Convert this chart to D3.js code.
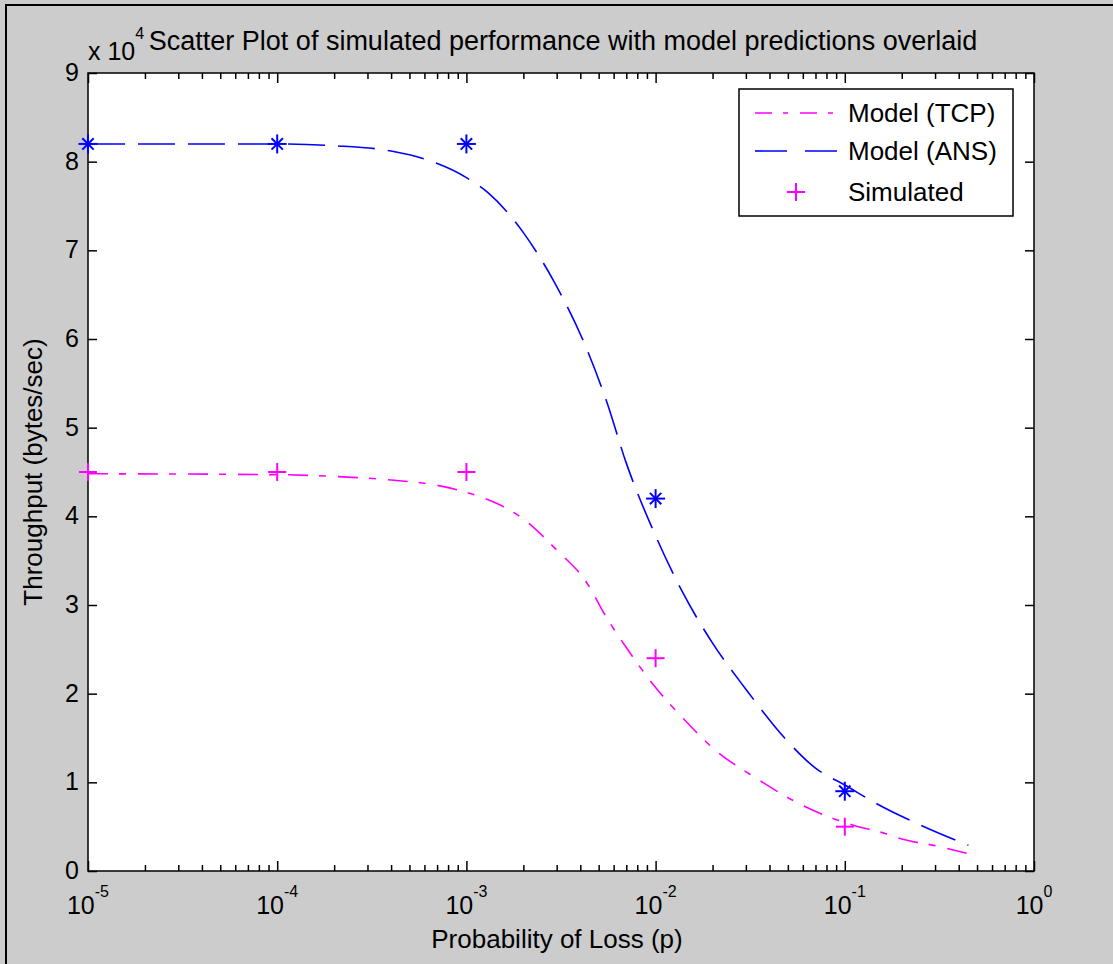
<!DOCTYPE html>
<html>
<head>
<meta charset="utf-8">
<script src="https://cdn.jsdelivr.net/npm/d3@7"></script>
<style>
  html, body { margin: 0; padding: 0; background: #cccccc; }
  svg { display: block; }
  text { font-family: "Liberation Sans", Arial, sans-serif; fill: #000; }
</style>
</head>
<body>
<script>
// ---------- data (throughput in bytes/sec) ----------
const simP   = [1e-5, 1e-4, 1e-3, 1e-2, 1e-1];
const simTCP = [45000, 45000, 45000, 24000, 5000];
const simANS = [82000, 82000, 82000, 42000, 9000];

const modelAnsP = [1e-5, 1e-4, 2e-4, 4e-4, 6e-4, 1e-3, 1.3e-3, 2e-3, 2.9e-3, 4.3e-3, 5.5e-3, 7e-3, 1e-2, 1.4e-2, 2e-2, 3e-2, 5e-2, 7e-2, 1e-1, 1.5e-1, 2.5e-1, 4.5e-1];
const modelAns  = [82000, 82000, 81800, 81200, 80300, 78200, 76500, 72000, 66500, 59000, 53000, 46000, 37800, 31300, 25700, 20500, 14600, 11600, 9700, 7500, 5200, 2900];

const modelTcpP = [1e-5, 1e-4, 2e-4, 4e-4, 7e-4, 1e-3, 1.5e-3, 2e-3, 3e-3, 4.3e-3, 5.5e-3, 7e-3, 1e-2, 1.4e-2, 2e-2, 3.5e-2, 5.5e-2, 8e-2, 1.1e-1, 1.65e-1, 2e-1, 3.1e-1, 3.7e-1, 4.8e-1];
const modelTcp  = [44800, 44700, 44500, 44100, 43500, 42700, 41300, 39700, 36200, 32600, 28600, 25200, 20700, 17200, 13900, 10300, 7800, 6200, 5200, 4200, 3600, 2800, 2400, 1800];

const yTickValues = [0, 10000, 20000, 30000, 40000, 50000, 60000, 70000, 80000, 90000];
const xMajorTicks = [1e-5, 1e-4, 1e-3, 1e-2, 1e-1, 1e0];
const xExponents  = ["-5", "-4", "-3", "-2", "-1", "0"];
const legendLabels = ["Model (TCP)", "Model (ANS)", "Simulated"];
const titleText = "Scatter Plot of simulated performance with model predictions overlaid";
const xLabelText = "Probability of Loss (p)";
const yLabelText = "Throughput (bytes/sec)";

// ---------- layout ----------
const W = 1113, H = 964;
const L = 88, R = 1034, T = 73, B = 871;
const MAG = "#ff00ff", BLUE = "#0000ff";

const svg = d3.select("body").append("svg").attr("width", W).attr("height", H);
svg.append("rect").attr("width", W).attr("height", H).attr("fill", "#cccccc");
// figure frame
svg.append("line").attr("x1", 6).attr("x2", 6).attr("y1", 5).attr("y2", H).attr("stroke", "#000").attr("stroke-width", 2);
svg.append("line").attr("x1", 5).attr("x2", W).attr("y1", 5).attr("y2", 5).attr("stroke", "#000").attr("stroke-width", 2);

svg.append("rect").attr("x", L).attr("y", T).attr("width", R - L).attr("height", B - T).attr("fill", "#fff");

const x = d3.scaleLog().domain([1e-5, 1]).range([L, R]);
const y = d3.scaleLinear().domain([0, 90000]).range([B, T]);

// minor ticks
const minor = [];
for (let e = -5; e < 0; e++) for (let k = 2; k <= 9; k++) minor.push(k * Math.pow(10, e));

function styleAxis(g) {
  g.select(".domain").remove();
  g.selectAll(".tick line").attr("stroke", "#000").attr("stroke-width", 1.5);
}
svg.append("g").attr("transform", `translate(0,${B})`)
  .call(d3.axisBottom(x).tickValues(minor).tickSize(-6).tickFormat("")).call(styleAxis);
svg.append("g").attr("transform", `translate(0,${B})`)
  .call(d3.axisBottom(x).tickValues(xMajorTicks).tickSize(-10).tickFormat("")).call(styleAxis);
svg.append("g").attr("transform", `translate(0,${T})`)
  .call(d3.axisTop(x).tickValues(minor).tickSize(-6).tickFormat("")).call(styleAxis);
svg.append("g").attr("transform", `translate(0,${T})`)
  .call(d3.axisTop(x).tickValues(xMajorTicks).tickSize(-10).tickFormat("")).call(styleAxis);

// y axes
const yl = svg.append("g").attr("transform", `translate(${L},0)`)
  .call(d3.axisLeft(y).tickValues(yTickValues).tickSize(-9).tickPadding(9).tickFormat(d => d / 10000));
styleAxis(yl);
yl.selectAll(".tick text").attr("font-size", 25).attr("font-family", "Liberation Sans, Arial, sans-serif").attr("fill", "#000").attr("dy", "0.3em");
svg.append("g").attr("transform", `translate(${R},0)`)
  .call(d3.axisRight(y).tickValues(yTickValues).tickSize(-9).tickFormat("")).call(styleAxis);

// x tick labels with superscripts
xMajorTicks.forEach((v, i) => {
  const t = svg.append("text").attr("x", x(v)).attr("y", 914).attr("text-anchor", "middle").attr("font-size", 25);
  t.append("tspan").text("10");
  t.append("tspan").attr("dy", -17).attr("font-size", 16).text(xExponents[i]);
});

// axes box
svg.append("rect").attr("x", L).attr("y", T).attr("width", R - L).attr("height", B - T)
  .attr("fill", "none").attr("stroke", "#000").attr("stroke-width", 1.5);

// model lines
const line = d3.line().x(d => x(d[0])).y(d => y(d[1])).curve(d3.curveMonotoneX);
const tcpData = modelTcpP.map((p, i) => [p, modelTcp[i]]);
const ansData = modelAnsP.map((p, i) => [p, modelAns[i]]);

svg.append("path").datum(tcpData).attr("d", line).attr("fill", "none")
  .attr("stroke", MAG).attr("stroke-width", 1.6).attr("stroke-dasharray", "20,11,7,12");
svg.append("path").datum(ansData).attr("d", line).attr("fill", "none")
  .attr("stroke", BLUE).attr("stroke-width", 1.6).attr("stroke-dasharray", "37,13");

// markers
function plus(g, cx, cy, r, color) {
  g.append("line").attr("x1", cx - r).attr("x2", cx + r).attr("y1", cy).attr("y2", cy).attr("stroke", color).attr("stroke-width", 2);
  g.append("line").attr("x1", cx).attr("x2", cx).attr("y1", cy - r).attr("y2", cy + r).attr("stroke", color).attr("stroke-width", 2);
}
function star(g, cx, cy, r, color) {
  plus(g, cx, cy, r, color);
  const d = r * 0.6;
  g.append("line").attr("x1", cx - d).attr("x2", cx + d).attr("y1", cy - d).attr("y2", cy + d).attr("stroke", color).attr("stroke-width", 2);
  g.append("line").attr("x1", cx - d).attr("x2", cx + d).attr("y1", cy + d).attr("y2", cy - d).attr("stroke", color).attr("stroke-width", 2);
}
const mk = svg.append("g");
simP.forEach((p, i) => plus(mk, x(p), y(simTCP[i]), 9, MAG));
simP.forEach((p, i) => star(mk, x(p), y(simANS[i]), 9.5, BLUE));

// legend
const lg = svg.append("g");
lg.append("rect").attr("x", 739).attr("y", 89).attr("width", 274).attr("height", 127)
  .attr("fill", "#fff").attr("stroke", "#000").attr("stroke-width", 1.5);
const rowsY = [113, 151, 192];
lg.append("line").attr("x1", 755).attr("x2", 837).attr("y1", rowsY[0]).attr("y2", rowsY[0])
  .attr("stroke", MAG).attr("stroke-width", 1.6).attr("stroke-dasharray", "17,11,5,12");
lg.append("line").attr("x1", 755).attr("x2", 837).attr("y1", rowsY[1]).attr("y2", rowsY[1])
  .attr("stroke", BLUE).attr("stroke-width", 1.6).attr("stroke-dasharray", "32,18");
plus(lg, 796, rowsY[2], 9, MAG);
legendLabels.forEach((s, i) => {
  lg.append("text").attr("x", 848).attr("y", rowsY[i]).attr("dy", "0.36em").attr("font-size", 26).text(s);
});

// title & labels
svg.append("text").attr("x", 563).attr("y", 50).attr("text-anchor", "middle").attr("font-size", 27).text(titleText);
const xm = svg.append("text").attr("x", 88).attr("y", 60).attr("font-size", 25);
xm.append("tspan").text("x 10");
xm.append("tspan").attr("dy", -21).attr("font-size", 16).text("4");
svg.append("text").attr("x", 557).attr("y", 948).attr("text-anchor", "middle").attr("font-size", 26).text(xLabelText);
svg.append("text").attr("transform", `translate(42,${(T + B) / 2}) rotate(-90)`).attr("text-anchor", "middle").attr("font-size", 26).text(yLabelText);
</script>
</body>
</html>
